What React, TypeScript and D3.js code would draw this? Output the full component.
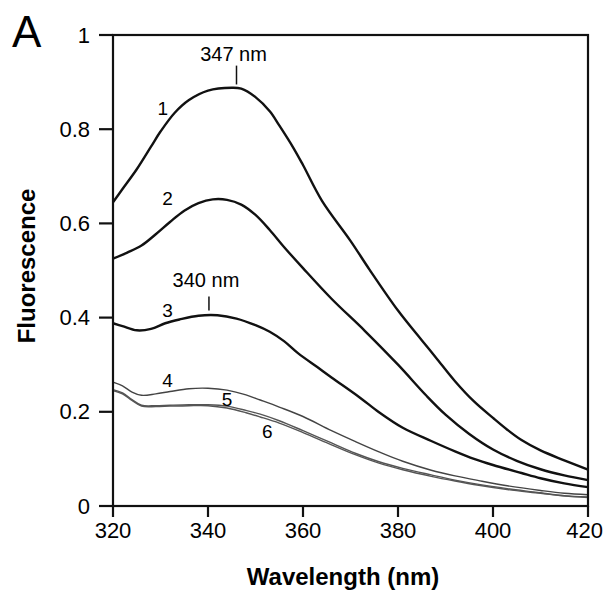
import * as d3 from "d3";

const wl1 = [320, 322, 325, 328, 330, 333, 336, 340, 345, 347, 350, 353, 355, 358, 360, 364, 370, 374, 380, 385, 388, 392, 396, 400, 403, 406, 410, 415, 420];
const curve1 = [0.645, 0.673, 0.715, 0.763, 0.795, 0.835, 0.862, 0.882, 0.888, 0.886, 0.868, 0.838, 0.808, 0.76, 0.724, 0.648, 0.563, 0.502, 0.415, 0.352, 0.315, 0.265, 0.222, 0.187, 0.162, 0.14, 0.118, 0.097, 0.077];

const wl2 = [320, 323, 326, 329, 332, 335, 338, 341, 344, 347, 350, 353, 356, 360, 366, 373, 380, 386, 390, 395, 400, 405, 410, 415, 420];
const curve2 = [0.525, 0.538, 0.553, 0.577, 0.603, 0.627, 0.643, 0.651, 0.65, 0.64, 0.618, 0.586, 0.55, 0.505, 0.44, 0.372, 0.3, 0.234, 0.194, 0.153, 0.12, 0.096, 0.078, 0.065, 0.055];

const wl3 = [320, 322, 325, 328, 331, 334, 338, 342, 346, 350, 353, 356, 359, 363, 366, 372, 376, 381, 387, 392, 396, 400, 406, 410, 415, 420];
const curve3 = [0.388, 0.382, 0.373, 0.376, 0.388, 0.396, 0.404, 0.405, 0.398, 0.384, 0.37, 0.35, 0.324, 0.295, 0.273, 0.23, 0.199, 0.166, 0.138, 0.116, 0.1, 0.087, 0.07, 0.059, 0.048, 0.04];

// curves 4-6 share the same wavelengths
const wlLow = [320, 322, 324, 326, 329, 332, 336, 340, 344, 348, 351, 355, 360, 366, 371, 376, 381, 387, 392, 397, 403, 410, 415, 420];
const curve4 = [0.263, 0.255, 0.242, 0.235, 0.238, 0.243, 0.249, 0.25, 0.246, 0.236, 0.225, 0.21, 0.19, 0.16, 0.137, 0.115, 0.095, 0.076, 0.064, 0.054, 0.043, 0.033, 0.027, 0.024];
const curve5 = [0.247, 0.24, 0.226, 0.214, 0.213, 0.214, 0.215, 0.215, 0.212, 0.203, 0.195, 0.181, 0.16, 0.134, 0.112, 0.094, 0.08, 0.066, 0.055, 0.046, 0.037, 0.028, 0.022, 0.019];
const curve6 = [0.245, 0.238, 0.224, 0.212, 0.211, 0.212, 0.213, 0.213, 0.208, 0.198, 0.189, 0.176, 0.156, 0.13, 0.109, 0.091, 0.077, 0.063, 0.053, 0.044, 0.035, 0.027, 0.021, 0.018];

const xTicks = [320, 340, 360, 380, 400, 420];
const yTicks = [0, 0.2, 0.4, 0.6, 0.8, 1];

const series = [
  { name: "1", wl: wl1, vals: curve1, color: "#111", width: 2.4, label: [330.5, 0.845] },
  { name: "2", wl: wl2, vals: curve2, color: "#111", width: 2.4, label: [331.5, 0.652] },
  { name: "3", wl: wl3, vals: curve3, color: "#111", width: 2.4, label: [331.5, 0.416] },
  { name: "4", wl: wlLow, vals: curve4, color: "#444", width: 1.4, label: [331.5, 0.266] },
  { name: "5", wl: wlLow, vals: curve5, color: "#555", width: 1.4, label: [344, 0.226] },
  { name: "6", wl: wlLow, vals: curve6, color: "#555", width: 1.4, label: [352.5, 0.158] },
];

const peaks = [
  { text: "347 nm", at: 346, top: 0.895, bottom: 0.935, textY: 0.945 },
  { text: "340 nm", at: 340.2, top: 0.415, bottom: 0.445, textY: 0.465 },
];

const font = "'Liberation Sans', Arial, Helvetica, sans-serif";

export default function App() {
  const left = 113, right = 588, top = 35, bottom = 506;
  const x = d3.scaleLinear().domain([320, 420]).range([left, right]);
  const y = d3.scaleLinear().domain([0, 1]).range([bottom, top]);
  const line = d3
    .line<[number, number]>()
    .x((d) => x(d[0]))
    .y((d) => y(d[1]))
    .curve(d3.curveCatmullRom.alpha(0.5));

  return (
    <svg
      width={604}
      height={590}
      style={{ position: "absolute", left: 0, top: 0, background: "#fff" }}
      fontFamily={font}
    >
      <text x={12} y={47} fontSize={44}>A</text>

      {series.map((s) => (
        <path
          key={s.name}
          d={line(s.wl.map((w, i) => [w, s.vals[i]]) as [number, number][]) || ""}
          fill="none"
          stroke={s.color}
          strokeWidth={s.width}
          strokeLinejoin="round"
        />
      ))}

      {series.map((s) => (
        <text key={"l" + s.name} x={x(s.label[0])} y={y(s.label[1])} fontSize={19} textAnchor="middle" dominantBaseline="central">
          {s.name}
        </text>
      ))}

      {peaks.map((p) => (
        <g key={p.text}>
          <line x1={x(p.at)} x2={x(p.at)} y1={y(p.top)} y2={y(p.bottom)} stroke="#111" strokeWidth={1.5} />
          <text x={x(p.at) - 3} y={y(p.textY)} fontSize={20} textAnchor="middle">{p.text}</text>
        </g>
      ))}

      <rect x={left} y={top} width={right - left} height={bottom - top} fill="none" stroke="#111" strokeWidth={2.2} />

      {yTicks.map((t) => (
        <g key={"y" + t}>
          <line x1={left - 14} x2={left} y1={y(t)} y2={y(t)} stroke="#111" strokeWidth={2.2} />
          <text x={left - 23} y={y(t)} fontSize={22} textAnchor="end" dominantBaseline="central">
            {d3.format("~g")(t)}
          </text>
        </g>
      ))}

      {xTicks.map((t, i) => (
        <g key={"x" + t}>
          <line x1={x(t)} x2={x(t)} y1={bottom} y2={bottom + 11} stroke="#111" strokeWidth={2.2} />
          <text
            x={i === xTicks.length - 1 ? 603 : x(t)}
            y={bottom + 32}
            fontSize={22}
            textAnchor={i === xTicks.length - 1 ? "end" : "middle"}
          >
            {t}
          </text>
        </g>
      ))}

      <text x={343} y={585} fontSize={24} fontWeight="bold" textAnchor="middle">Wavelength (nm)</text>
      <text
        transform={`translate(35, ${266}) rotate(-90)`}
        fontSize={24}
        fontWeight="bold"
        textAnchor="middle"
      >
        Fluorescence
      </text>
    </svg>
  );
}
